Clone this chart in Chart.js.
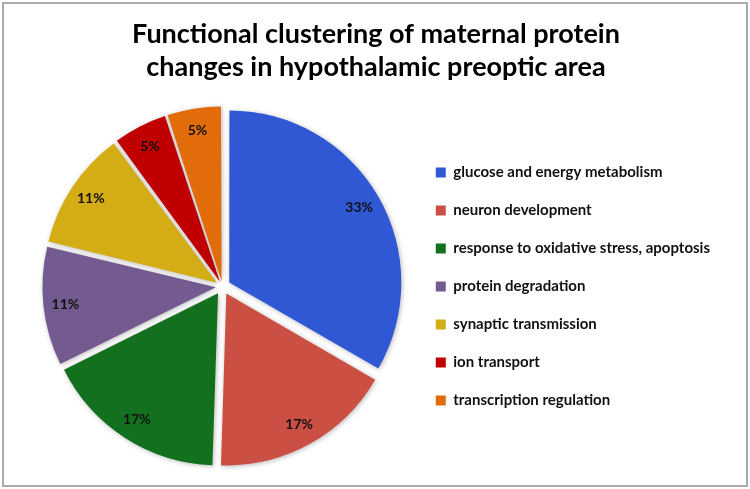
<!DOCTYPE html>
<html>
<head>
<meta charset="utf-8">
<script src="https://cdn.jsdelivr.net/npm/chart.js@4.4.1/dist/chart.umd.min.js"></script>
<style>
  html, body { margin: 0; padding: 0; background: #fff; }
  #wrap { position: relative; width: 750px; height: 489px; }
  #frame { position: absolute; left: 2px; top: 2px; width: 742px; height: 481px; border: 2px solid #aaaaaa; pointer-events: none; }
  canvas { display: block; }
</style>
</head>
<body>
<div id="wrap">
  <canvas id="c" width="750" height="489"></canvas>
  <div id="frame"></div>
</div>
<script>
const categories = [
  'glucose and energy metabolism',
  'neuron development',
  'response to oxidative stress, apoptosis',
  'protein degradation',
  'synaptic transmission',
  'ion transport',
  'transcription regulation'
];
const percentValues = [33, 17, 17, 11, 11, 5, 5];
const sliceColors = ['#3158D4', '#CB4F43', '#13701F', '#735A90', '#D4AC15', '#C00000', '#E36C0A'];
const titleLines = ['Functional clustering of maternal protein', 'changes in hypothalamic preoptic area'];

const explodePx = 9;

// Chart.js v4 arc draw translates by offset/4 * (1 + fix); invert that so each slice moves explodePx
function offsetFor(ctx) {
  const data = ctx.dataset.data;
  const total = data.reduce((a, b) => a + b, 0);
  const circ = 2 * Math.PI * data[ctx.dataIndex] / total;
  const fix = 1 - Math.sin(Math.min(Math.PI, circ));
  return 4 * explodePx / (1 + fix);
}

const labelPlugin = {
  id: 'sliceLabels',
  afterDatasetsDraw(chart) {
    const ctx = chart.ctx;
    const meta = chart.getDatasetMeta(0);
    ctx.save();
    ctx.font = 'bold 14px Lato';
    ctx.fillStyle = '#111';
    ctx.textAlign = 'center';
    ctx.textBaseline = 'middle';
    meta.data.forEach((arc, i) => {
      const p = arc.getProps(['x', 'y', 'startAngle', 'endAngle', 'outerRadius']);
      const mid = (p.startAngle + p.endAngle) / 2;
      const r = p.outerRadius - 22 + explodePx;
      ctx.fillText(percentValues[i] + '%', p.x + Math.cos(mid) * r, p.y + Math.sin(mid) * r);
    });
    ctx.restore();
  }
};

const shadowPlugin = {
  id: 'sliceShadow',
  beforeDatasetsDraw(chart) {
    const ctx = chart.ctx;
    ctx.save();
    ctx.shadowColor = 'rgba(0,0,0,0.28)';
    ctx.shadowBlur = 5;
    ctx.shadowOffsetX = 1;
    ctx.shadowOffsetY = 1;
  },
  afterDatasetsDraw(chart) {
    chart.ctx.restore();
  }
};

new Chart(document.getElementById('c'), {
  type: 'pie',
  data: {
    labels: categories,
    datasets: [{
      data: percentValues,
      backgroundColor: sliceColors,
      borderWidth: 0,
      offset: offsetFor,
      radius: 171
    }]
  },
  options: {
    responsive: false,
    animation: false,
    devicePixelRatio: 1,
    layout: { padding: { left: 32, right: 30, top: 0, bottom: 10 } },
    plugins: {
      tooltip: { enabled: false },
      title: {
        display: true,
        text: titleLines,
        color: '#000',
        font: { family: 'Lato', weight: 'bold', size: 27, lineHeight: 1.222 },
        padding: { top: 18, bottom: 10 }
      },
      legend: {
        position: 'right',
        align: 'center',
        fullSize: false,
        labels: {
          color: '#111',
          font: { family: 'Lato', weight: 'bold', size: 15 },
          boxWidth: 10,
          boxHeight: 10,
          padding: 23
        }
      }
    }
  },
  plugins: [shadowPlugin, labelPlugin]
});
</script>
</body>
</html>
